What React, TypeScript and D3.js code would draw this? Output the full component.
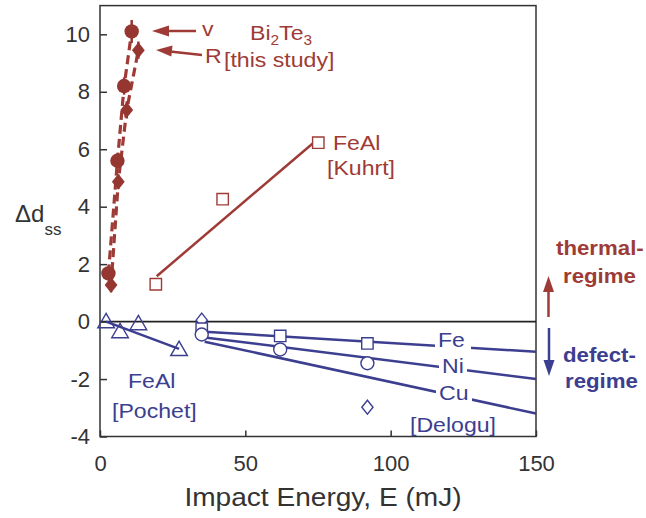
import React, { useRef, useEffect } from "react";
import * as d3 from "d3";

// Bi2Te3 (this study): v and R
const biV_E = [2.9, 6.0, 8.3, 10.9];
const biV_d = [1.68, 5.6, 8.2, 10.1];
const biV_err = [0.25, 0.25, 0.3, 0.4];
const biR_E = [3.8, 6.3, 9.2, 13.2];
const biR_d = [1.27, 4.87, 7.37, 9.45];
const biR_err = [0.25, 0.25, 0.3, 0.3];

// FeAl [Kuhrt]
const kuhrtE = [19.2, 42.2, 75.1];
const kuhrtD = [1.3, 4.26, 6.23];
const kuhrtFitE = [19.5, 75.5];
const kuhrtFitD = [1.58, 6.4];

// FeAl [Pochet]
const pochetE = [2.1, 6.9, 13.2, 27.2];
const pochetD = [-0.08, -0.43, -0.15, -1.05];
const pochetFitE = [2.1, 27.2];
const pochetFitD = [0.0, -0.95];

// [Delogu] Fe, Ni, Cu
const feE = [35, 62, 92];
const feD = [-0.25, -0.5, -0.76];
const niE = [35, 62, 92];
const niD = [-0.45, -0.97, -1.45];
const delDiaE = [35, 92];
const delDiaD = [0.05, -2.98];
const fitE = [36, 150];
const feFitD = [-0.35, -1.05];
const niFitD = [-0.55, -2.0];
const cuFitD = [-0.7, -3.2];

const xTicks = [0, 50, 100, 150];
const yTicks = [-4, -2, 0, 2, 4, 6, 8, 10];

const RED = "#9e3b36";
const RED_FILL = "#953631";
const BLUE = "#3c3e8f";
const FONT = "'Liberation Sans', Arial, sans-serif";

const W = 646, H = 518;
const x = d3.scaleLinear().domain([0, 150]).range([100, 536]);
const y = d3.scaleLinear().domain([-4, 11]).range([436.5, 5.6]);

function Label({ x: lx, y: ly, size = 21, color, weight = "normal", sx = 1.1, children }: any) {
  return (
    <text transform={`translate(${lx},${ly}) scale(${sx},1)`} fontSize={size}
      fill={color} fontWeight={weight} fontFamily={FONT}>
      {children}
    </text>
  );
}

function pts(E: number[], D: number[]) {
  return E.map((e, i) => [e, D[i]] as [number, number]);
}

export default function App() {
  const xRef = useRef<SVGGElement>(null);
  const yRef = useRef<SVGGElement>(null);

  useEffect(() => {
    const gx = d3.select(xRef.current);
    gx.selectAll("*").remove();
    gx.call(d3.axisBottom(x).tickValues(xTicks).tickSize(-6).tickPadding(19).tickFormat((d: any) => String(d)) as any);
    gx.select(".domain").remove();
    gx.selectAll("line").attr("stroke", "#333").attr("stroke-width", 1.5);
    gx.selectAll("text").attr("font-size", 22).attr("font-family", FONT).attr("fill", "#333");

    const gy = d3.select(yRef.current);
    gy.selectAll("*").remove();
    gy.call(d3.axisLeft(y).tickValues(yTicks).tickSize(-7).tickPadding(10).tickFormat((d: any) => String(d)) as any);
    gy.select(".domain").remove();
    gy.selectAll("line").attr("stroke", "#333").attr("stroke-width", 1.5);
    gy.selectAll("text").attr("font-size", 22).attr("font-family", FONT).attr("fill", "#333");
  }, []);

  const line = d3.line<[number, number]>().x(d => x(d[0])).y(d => y(d[1]));
  const sq = d3.symbol().type(d3.symbolSquare).size(130)()!;
  const tri = d3.symbol().type(d3.symbolTriangle).size(120)()!;
  const dia = (s: number) => `M0,${-s}L${s * 0.8},0L0,${s}L${-s * 0.8},0Z`;

  return (
    <svg width={W} height={H} style={{ position: "absolute", left: 0, top: 0 }}>
      <rect width={W} height={H} fill="#fff" />

      {/* frame */}
      <rect x={x(0)} y={y(11)} width={x(150) - x(0)} height={y(-4) - y(11)}
        fill="none" stroke="#333" strokeWidth={1.5} />
      <line x1={x(0)} x2={x(150)} y1={y(0)} y2={y(0)} stroke="#222" strokeWidth={1.6} />

      <g ref={xRef} transform={`translate(0,${y(-4)})`} />
      <g ref={yRef} transform={`translate(${x(0)},0)`} />

      {/* Bi2Te3 dashed lines */}
      <path d={line(pts(biV_E, biV_d))!} fill="none" stroke={RED} strokeWidth={3.2} strokeDasharray="9 5" />
      <path d={line(pts(biR_E, biR_d))!} fill="none" stroke={RED} strokeWidth={3.2} strokeDasharray="9 5" />
      {biV_E.map((e, i) => (
        <line key={"ev" + i} x1={x(e)} x2={x(e)} y1={y(biV_d[i] - biV_err[i])} y2={y(biV_d[i] + biV_err[i])}
          stroke={RED_FILL} strokeWidth={2.5} />
      ))}
      {biR_E.map((e, i) => (
        <line key={"er" + i} x1={x(e)} x2={x(e)} y1={y(biR_d[i] - biR_err[i])} y2={y(biR_d[i] + biR_err[i])}
          stroke={RED_FILL} strokeWidth={2.5} />
      ))}
      {biV_E.map((e, i) => (
        <circle key={"v" + i} cx={x(e)} cy={y(biV_d[i])} r={7.2} fill={RED_FILL} />
      ))}
      {biR_E.map((e, i) => (
        <path key={"r" + i} d={dia(8)} transform={`translate(${x(e)},${y(biR_d[i])})`} fill={RED_FILL} />
      ))}

      {/* FeAl Kuhrt */}
      <path d={line(pts(kuhrtFitE, kuhrtFitD))!} fill="none" stroke={RED} strokeWidth={2.5} />
      {kuhrtE.map((e, i) => (
        <path key={"k" + i} d={sq} transform={`translate(${x(e)},${y(kuhrtD[i])})`}
          fill="#fff" stroke={RED} strokeWidth={1.4} />
      ))}

      {/* FeAl Pochet */}
      <path d={line(pts(pochetFitE, pochetFitD))!} fill="none" stroke={BLUE} strokeWidth={2.5} />
      {pochetE.map((e, i) => (
        <path key={"p" + i} d={tri} transform={`translate(${x(e)},${y(pochetD[i]) - 1})`}
          fill="none" stroke={BLUE} strokeWidth={1.4} />
      ))}

      {/* Delogu fits */}
      <path d={line(pts(fitE, feFitD))!} fill="none" stroke={BLUE} strokeWidth={2.5} />
      <path d={line(pts(fitE, niFitD))!} fill="none" stroke={BLUE} strokeWidth={2.5} />
      <path d={line(pts(fitE, cuFitD))!} fill="none" stroke={BLUE} strokeWidth={2.5} />
      {delDiaE.map((e, i) => (
        <path key={"dd" + i} d={dia(7)} transform={`translate(${x(e)},${y(delDiaD[i])})`}
          fill="#fff" stroke={BLUE} strokeWidth={1.4} />
      ))}
      {feE.map((e, i) => (
        <path key={"fe" + i} d={sq} transform={`translate(${x(e)},${y(feD[i])})`}
          fill="#fff" stroke={BLUE} strokeWidth={1.4} />
      ))}
      {niE.map((e, i) => (
        <circle key={"ni" + i} cx={x(e)} cy={y(niD[i])} r={6.5} fill="#fff" stroke={BLUE} strokeWidth={1.4} />
      ))}

      {/* line labels with gaps */}
      <rect x={435} y={332} width={36} height={18} fill="#fff" />
      <rect x={439} y={358} width={28} height={18} fill="#fff" />
      <rect x={436} y={385} width={36} height={18} fill="#fff" />
      <Label x={438} y={347} color={BLUE}>Fe</Label>
      <Label x={442} y={373} color={BLUE}>Ni</Label>
      <Label x={439} y={400} color={BLUE}>Cu</Label>
      <Label x={410} y={432} color={BLUE}>[Delogu]</Label>

      <Label x={128} y={388} color={BLUE}>FeAl</Label>
      <Label x={112} y={418} color={BLUE}>[Pochet]</Label>

      <Label x={333} y={150} color={RED}>FeAl</Label>
      <Label x={327} y={175} color={RED}>[Kuhrt]</Label>

      <Label x={250} y={40} color={RED}>
        Bi<tspan fontSize={14} dy={5}>2</tspan><tspan dy={-5}>Te</tspan><tspan fontSize={14} dy={5}>3</tspan>
      </Label>
      <Label x={224} y={67} color={RED}>[this study]</Label>
      <Label x={202} y={36} color={RED}>v</Label>
      <Label x={205} y={63} color={RED}>R</Label>

      {/* arrows to Bi2Te3 points */}
      <line x1={196} y1={31} x2={166} y2={31} stroke={RED} strokeWidth={2.5} />
      <path d="M152,31 L169,25.5 L169,36.5 Z" fill={RED} />
      <line x1={202} y1={55} x2={170} y2={51.5} stroke={RED} strokeWidth={2.5} />
      <path d="M156,50 L172.5,45.5 L171.3,56.5 Z" fill={RED} />

      {/* regime arrows */}
      <line x1={548.5} x2={548.5} y1={317} y2={290} stroke={RED} strokeWidth={2.5} />
      <path d="M548.5,276 L543,292 L554,292 Z" fill={RED} />
      <line x1={549} x2={549} y1={328} y2={362} stroke={BLUE} strokeWidth={2.5} />
      <path d="M549,376 L543.5,360 L554.5,360 Z" fill={BLUE} />

      <Label x={556} y={255} color={RED} weight="bold" size={21} sx={1.06}>thermal-</Label>
      <Label x={563} y={283} color={RED} weight="bold" size={21} sx={1.06}>regime</Label>
      <Label x={563} y={362} color={BLUE} weight="bold" size={21} sx={1.06}>defect-</Label>
      <Label x={565} y={388} color={BLUE} weight="bold" size={21} sx={1.06}>regime</Label>

      {/* axis titles */}
      <text x={323} y={506} textAnchor="middle" fontSize={26} fill="#333" fontFamily={FONT}
        transform="translate(323,0) scale(1.08,1) translate(-323,0)">
        Impact Energy, E (mJ)
      </text>
      <text x={15} y={222} fontSize={24} fill="#333" fontFamily={FONT}>
        Δd<tspan fontSize={17} dy={13}>ss</tspan>
      </text>
    </svg>
  );
}
